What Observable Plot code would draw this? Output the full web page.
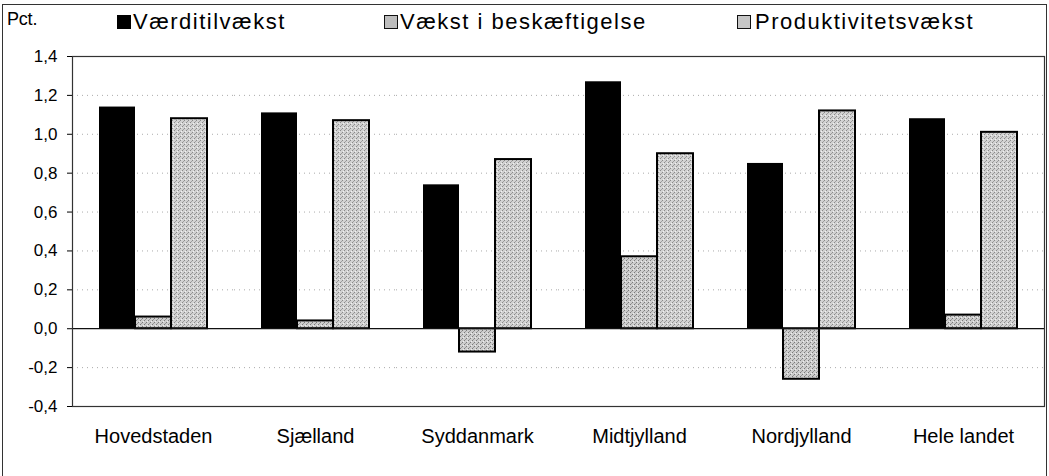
<!DOCTYPE html>
<html>
<head>
<meta charset="utf-8">
<script src="https://cdn.jsdelivr.net/npm/d3@7"></script>
<script src="https://cdn.jsdelivr.net/npm/@observablehq/plot@0.6"></script>
<style>
  body { margin: 0; background: #fff; }
  #wrap { position: relative; width: 1049px; height: 476px; overflow: hidden;
          font-family: "Liberation Sans", Arial, sans-serif; color: #000; }
  #outer { position: absolute; left: 2px; top: 4px; width: 1045px; height: 490px;
           border: 1px solid #333; box-sizing: border-box; }
  #chart { position: absolute; left: 0; top: 0; }
  .pct { position: absolute; left: 7px; top: 9px; font-size: 18px; letter-spacing: -0.2px; line-height: 20px; }
  .leg { position: absolute; top: 9px; font-size: 22px; letter-spacing: 1.5px; line-height: 26px; white-space: nowrap; }
  .sw { position: absolute; width: 14px; height: 14px; box-sizing: border-box; top: 15px; }
</style>
</head>
<body>
<div id="wrap">
  <div id="outer"></div>
  <div id="chart"></div>
  <div id="legend"></div>
</div>
<script>
// ---- data ----
const regions = ["Hovedstaden", "Sjælland", "Syddanmark", "Midtjylland", "Nordjylland", "Hele landet"];
const series = ["Værditilvækst", "Vækst i beskæftigelse", "Produktivitetsvækst"];
const vaerditilvaekst = [1.14, 1.11, 0.74, 1.27, 0.85, 1.08];
const beskaeftigelse = [0.06, 0.04, -0.12, 0.37, -0.26, 0.07];
const produktivitet = [1.08, 1.07, 0.87, 0.90, 1.12, 1.01];
const yTicks = [-0.4, -0.2, 0, 0.2, 0.4, 0.6, 0.8, 1.0, 1.2, 1.4];
const gridValues = [-0.2, 0.2, 0.4, 0.6, 0.8, 1.0, 1.2];
const yLabel = "Pct.";

const seriesColors = ["#000000", "url(#patEmp)", "url(#patProd)"];
const swatchColors = ["#000000", "#bdbdbd", "#c6c6c6"];

const valuesBySeries = [vaerditilvaekst, beskaeftigelse, produktivitet];
const table = regions.flatMap((r, i) =>
  series.map((s, j) => ({region: r, series: s, value: valuesBySeries[j][i]}))
);

const fmt = d => d.toFixed(1).replace(".", ",");

const chart = Plot.plot({
  width: 1049,
  height: 476,
  marginTop: 56,
  marginBottom: 70,
  marginLeft: 72,
  marginRight: 5,
  style: {fontFamily: '"Liberation Sans", Arial, sans-serif', color: "#000", background: "transparent", overflow: "visible"},
  fx: {domain: regions, paddingInner: 0, paddingOuter: 0, label: null},
  x: {domain: series, paddingInner: 0, paddingOuter: 0.71, axis: null},
  y: {domain: [-0.4, 1.4], label: null},
  color: {domain: series, range: seriesColors},
  marks: [
    Plot.ruleY(gridValues, {stroke: "#888", strokeOpacity: 0.7, strokeDasharray: "1,4", strokeWidth: 1}),
    Plot.barY(table, {filter: d => d.series === series[0], fx: "region", x: "series", y: "value", fill: "series"}),
    Plot.barY(table, {filter: d => d.series !== series[0], fx: "region", x: "series", y: "value", fill: "series", stroke: "#000", strokeWidth: 2}),
    Plot.ruleY([0], {stroke: "#111", strokeWidth: 1.2}),
    Plot.frame({
      facet: "super", stroke: "#333", strokeWidth: 1.2,
      render(index, scales, values, dimensions, context, next) {
        const g = next(index, scales, values, dimensions, context);
        const fx = scales.fx, y = scales.y;
        if (fx && y) {
          const y0 = y(0);
          regions.slice(1).forEach(r => {
            const xx = Math.round(fx(r)) + 0.5;
            const ln = document.createElementNS("http://www.w3.org/2000/svg", "line");
            ln.setAttribute("x1", xx); ln.setAttribute("x2", xx);
            ln.setAttribute("y1", y0); ln.setAttribute("y2", y0 + 5);
            ln.setAttribute("stroke", "#111");
            g.appendChild(ln);
          });
        }
        return g;
      }
    }),
    Plot.axisY({ticks: yTicks, tickFormat: fmt, tickSize: 5, tickPadding: 10, fontSize: 17, label: null}),
    Plot.axisFx({anchor: "bottom", tickSize: 0, tickPadding: 22, fontSize: 20, label: null})
  ]
});

// stipple textures for the grey bars (as in the printed original)
const NS = "http://www.w3.org/2000/svg";
const defs = document.createElementNS(NS, "defs");
function makePattern(id, base, dots) {
  const p = document.createElementNS(NS, "pattern");
  p.setAttribute("id", id);
  p.setAttribute("width", 4); p.setAttribute("height", 4);
  p.setAttribute("patternUnits", "userSpaceOnUse");
  const bg = document.createElementNS(NS, "rect");
  bg.setAttribute("width", 4); bg.setAttribute("height", 4); bg.setAttribute("fill", base);
  p.appendChild(bg);
  dots.forEach(([x, y, c]) => {
    const r = document.createElementNS(NS, "rect");
    r.setAttribute("x", x); r.setAttribute("y", y);
    r.setAttribute("width", 1); r.setAttribute("height", 1); r.setAttribute("fill", c);
    p.appendChild(r);
  });
  defs.appendChild(p);
}
makePattern("patEmp", "#cdcdcd", [[0, 0, "#7a7a7a"], [2, 2, "#7a7a7a"], [1, 3, "#9a9a9a"], [3, 1, "#eeeeee"]]);
makePattern("patProd", "#d2d2d2", [[0, 0, "#8a8a8a"], [2, 2, "#8a8a8a"], [3, 1, "#a0a0a0"], [1, 3, "#f2f2f2"]]);
chart.insertBefore(defs, chart.firstChild);
document.getElementById("chart").appendChild(chart);

// ---- legend (HTML above the chart) ----
const legend = document.getElementById("legend");
const pct = document.createElement("div");
pct.className = "pct"; pct.textContent = yLabel;
legend.appendChild(pct);
const swatchX = [117, 384, 737];
const textX = [133, 400, 755];
series.forEach((s, j) => {
  const sw = document.createElement("div");
  sw.className = "sw";
  sw.style.left = swatchX[j] + "px";
  sw.style.background = swatchColors[j];
  if (j > 0) sw.style.border = "1.5px solid #111";
  legend.appendChild(sw);
  const t = document.createElement("div");
  t.className = "leg";
  t.style.left = textX[j] + "px";
  t.textContent = s;
  legend.appendChild(t);
});
</script>
</body>
</html>
